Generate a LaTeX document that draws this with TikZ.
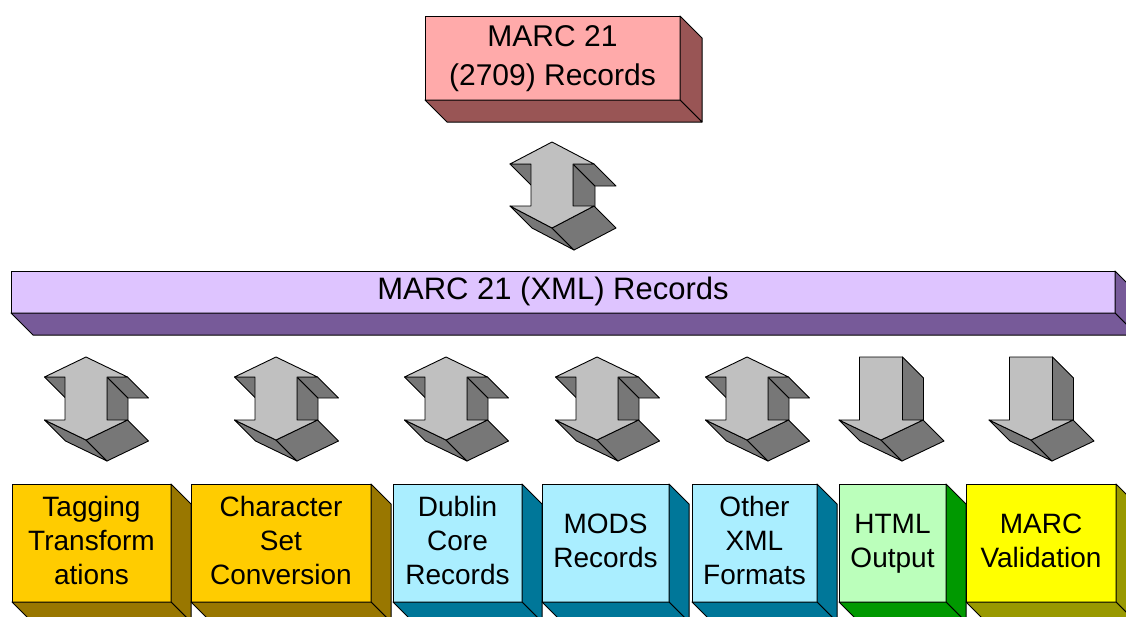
\documentclass[tikz,border=0pt]{standalone}
\usepackage{fontspec}
\setmainfont{Liberation Sans}

\definecolor{rosefront}{RGB}{255,170,170}
\definecolor{roseside}{RGB}{153,85,85}
\definecolor{lilacfront}{RGB}{222,196,255}
\definecolor{lilacside}{RGB}{119,90,153}
\definecolor{amberfront}{RGB}{255,204,0}
\definecolor{amberside}{RGB}{153,119,0}
\definecolor{skyfront}{RGB}{170,238,255}
\definecolor{skyside}{RGB}{0,119,153}
\definecolor{mintfront}{RGB}{187,255,187}
\definecolor{mintside}{RGB}{0,153,0}
\definecolor{lemonfront}{RGB}{255,255,0}
\definecolor{lemonside}{RGB}{153,153,0}
\definecolor{arrowlight}{RGB}{192,192,192}
\definecolor{arrowdark}{RGB}{119,119,119}

\tikzset{
  edge line/.style={draw=black, line width=1pt, line join=round},
  slab/.style={edge line, inner sep=0pt, outer sep=0pt, align=center},
  big text/.style={font=\fontsize{30}{39}\selectfont},
  box text/.style={font=\fontsize{28}{34}\selectfont},
  arrow face/.style={draw=black, line width=0.9pt, line join=round, fill=arrowlight},
  arrow side/.style={draw=black, line width=0.9pt, line join=round, fill=arrowdark},
}

% uniform line height for the text inside the blocks
\newcommand{\lstrut}{\vphantom{(Ag}}

% right and bottom faces of a block drawn as a node: name, depth, colour
\newcommand{\extrude}[3]{%
  \path[edge line, fill=#3] (#1.north east) -- ++(#2,#2)
       -- ([shift={(#2,#2)}]#1.south east) -- (#1.south east) -- cycle;
  \path[edge line, fill=#3] (#1.south west) -- (#1.south east)
       -- ([shift={(#2,#2)}]#1.south east) -- ([shift={(#2,#2)}]#1.south west) -- cycle;
}

% solid double-headed arrow: top tip, head half-width, shaft half-width,
% head height, shaft length, depth
\newcommand{\twowayarrow}[6]{%
  \pgfmathsetmacro\yshoulder{#4}%
  \pgfmathsetmacro\yfoot{#4+#5}%
  \pgfmathsetmacro\ytip{2*#4+#5}%
  \begin{scope}[shift={(#1)}]
    \path[arrow side] (#3,\yshoulder) -- ++(#6,#6) -- (#3+#6,\yfoot+#6) -- (#3,\yfoot) -- cycle;
    \path[arrow side] (#3,\yshoulder) -- (#2,\yshoulder) -- ++(#6,#6) -- (#3+#6,\yshoulder+#6) -- cycle;
    \path[arrow side] (-#2,\yshoulder) -- (-#3,\yshoulder) -- ++(#6,#6) -- (-#2+#6,\yshoulder+#6) -- cycle;
    \path[arrow side] (-#2,\yfoot) -- (0,\ytip) -- ++(#6,#6) -- (-#2+#6,\yfoot+#6) -- cycle;
    \path[arrow side] (0,\ytip) -- (#2,\yfoot) -- ++(#6,#6) -- (#6,\ytip+#6) -- cycle;
    \path[arrow face] (0,0) -- (#2,\yshoulder) -- (#3,\yshoulder) -- (#3,\yfoot)
       -- (#2,\yfoot) -- (0,\ytip) -- (-#2,\yfoot) -- (-#3,\yfoot)
       -- (-#3,\yshoulder) -- (-#2,\yshoulder) -- cycle;
  \end{scope}}

% solid downward arrow: top of shaft (centre), head half-width,
% shaft half-width, shaft length, head height, depth
\newcommand{\onewayarrow}[6]{%
  \pgfmathsetmacro\yfoot{#4}%
  \pgfmathsetmacro\ytip{#4+#5}%
  \begin{scope}[shift={(#1)}]
    \path[arrow side] (#3,0) -- ++(#6,#6) -- (#3+#6,\yfoot+#6) -- (#3,\yfoot) -- cycle;
    \path[arrow side] (-#2,\yfoot) -- (0,\ytip) -- ++(#6,#6) -- (-#2+#6,\yfoot+#6) -- cycle;
    \path[arrow side] (0,\ytip) -- (#2,\yfoot) -- ++(#6,#6) -- (#6,\ytip+#6) -- cycle;
    \path[arrow face] (-#3,0) -- (#3,0) -- (#3,\yfoot) -- (#2,\yfoot) -- (0,\ytip)
       -- (-#2,\yfoot) -- (-#3,\yfoot) -- cycle;
  \end{scope}}

\begin{document}
\begin{tikzpicture}[x=1pt,y=-1pt]
\useasboundingbox (0,0) rectangle (1126,616);
\clip (0,0) rectangle (1126,616);

% source records
\node[slab, big text, fill=rosefront, minimum width=255pt, minimum height=84pt]
  (marc) at (552.5,58) {\lstrut MARC 21\\\lstrut (2709) Records};
\extrude{marc}{22}{roseside}

\twowayarrow{552,142}{42}{21}{22}{42}{22}

% XML layer
\node[slab, fill=lilacfront, minimum width=1104pt, minimum height=42pt]
  (xmlbar) at (563,292) {};
\extrude{xmlbar}{22}{lilacside}
\node[font=\fontsize{31}{37}\selectfont, inner sep=0pt] (xmllabel) at (553,291)
  {MARC 21 (XML) Records};

% conversions
\twowayarrow{86,357}{41.5}{21}{20}{43}{21}
\twowayarrow{276,357}{41.5}{21}{20}{43}{21}
\twowayarrow{446,357}{41.5}{21}{20}{43}{21}
\twowayarrow{597,357}{41.5}{21}{20}{43}{21}
\twowayarrow{747,357}{41.5}{21}{20}{43}{21}
\onewayarrow{881,357}{42}{21.5}{63}{20}{21}
\onewayarrow{1031,357}{42}{21.5}{63}{20}{21}

% target formats
\node[slab, box text, fill=amberfront, minimum width=159pt, minimum height=118pt]
  (tagging) at (91.5,543) {\lstrut Tagging\\\lstrut Transform\\\lstrut ations};
\extrude{tagging}{20}{amberside}
\node[slab, box text, fill=amberfront, minimum width=180pt, minimum height=118pt]
  (charset) at (281,543) {\lstrut Character\\\lstrut Set\\\lstrut Conversion};
\extrude{charset}{20}{amberside}
\node[slab, box text, fill=skyfront, minimum width=129pt, minimum height=118pt]
  (dublin) at (457.5,543) {\lstrut Dublin\\\lstrut Core\\\lstrut Records};
\extrude{dublin}{20}{skyside}
\node[slab, box text, fill=skyfront, minimum width=127pt, minimum height=118pt]
  (mods) at (605.5,543) {\lstrut MODS\\\lstrut Records};
\extrude{mods}{20}{skyside}
\node[slab, box text, fill=skyfront, minimum width=125pt, minimum height=118pt]
  (otherxml) at (754.5,543) {\lstrut Other\\\lstrut XML\\\lstrut Formats};
\extrude{otherxml}{20}{skyside}
\node[slab, box text, fill=mintfront, minimum width=107pt, minimum height=118pt]
  (html) at (892.5,543) {\lstrut HTML\\\lstrut Output};
\extrude{html}{20}{mintside}
\node[slab, box text, fill=lemonfront, minimum width=150pt, minimum height=118pt]
  (validation) at (1041,543) {\lstrut MARC\\\lstrut Validation};
\extrude{validation}{20}{lemonside}
\end{tikzpicture}
\end{document}
